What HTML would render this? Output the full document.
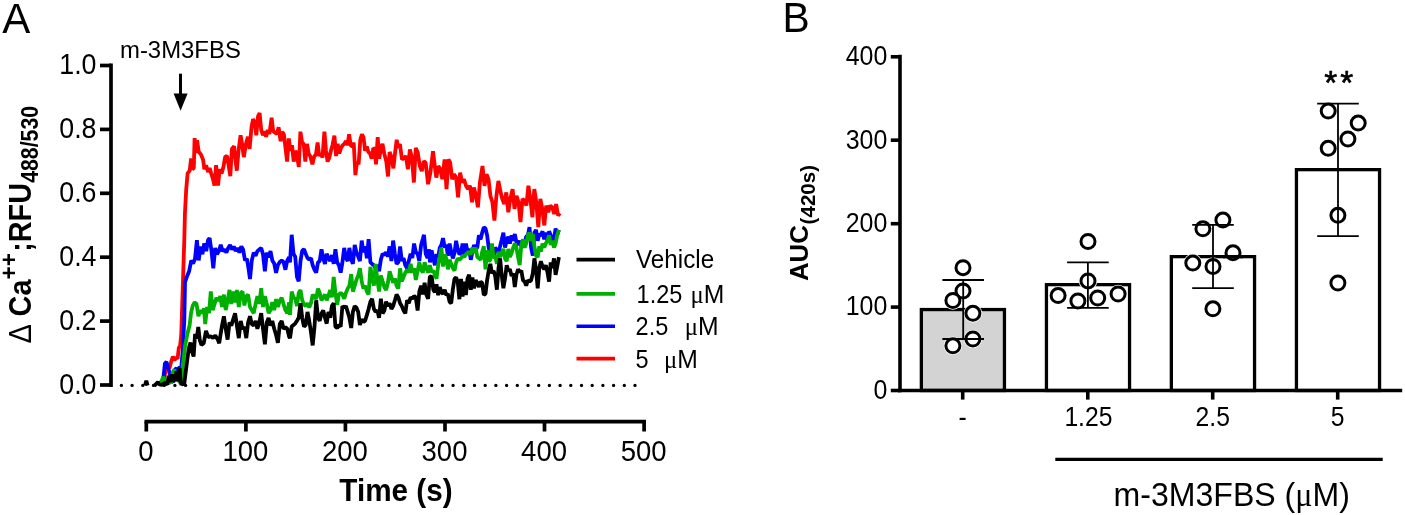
<!DOCTYPE html>
<html><head><meta charset="utf-8"><title>Figure</title>
<style>html,body{margin:0;padding:0;background:#fff;}body{width:1405px;height:515px;overflow:hidden;}svg{display:block;will-change:transform;}text{font-family:"Liberation Sans",sans-serif;fill:#000;}.b{font-weight:bold;}.sy{font-family:"Liberation Serif",serif;}</style>
</head><body>
<svg width="1405" height="515" viewBox="0 0 1405 515">
<rect width="1405" height="515" fill="#fff"/>
<text transform="translate(2.20,32.60) scale(1.0000,1)" font-size="42.00" text-anchor="start">A</text>
<line x1="121.4" y1="385.4" x2="635.5" y2="385.4" stroke="#000" stroke-width="3.4" stroke-linecap="round" stroke-dasharray="0 10.7"/>
<g fill="none" stroke-width="3.8" stroke-linejoin="bevel" stroke-linecap="butt">
<path d="M163.3,382.1 L165.6,371.3 L168.0,365.0 L169.5,368.2 L171.1,361.9 L172.9,356.5 L174.5,360.4 L176.0,357.3 L177.6,358.8 L178.8,348.0 L180.1,345.6 L181.2,335.5 L184.3,240.0 L184.9,214.2 L186.2,189.7 L187.6,173.4 L189.7,170.7 L191.1,158.4 L192.5,169.3 L193.8,168.0 L194.6,138.1 L196.3,153.0 L197.1,140.2 L198.7,151.7 L200.9,154.4 L203.1,159.8 L204.4,169.3 L206.1,165.2 L208.0,172.0 L209.6,168.0 L211.2,173.4 L212.9,178.8 L214.5,185.6 L216.1,165.2 L218.0,185.6 L219.7,169.3 L221.6,173.4 L223.5,166.6 L225.1,157.1 L227.0,155.7 L228.6,165.2 L230.3,176.1 L231.9,148.9 L234.1,146.2 L235.1,157.1 L236.8,170.7 L238.7,148.9 L240.6,135.3 L242.2,144.9 L243.8,157.1 L246.0,143.5 L247.9,136.7 L249.6,148.9 L251.5,127.2 L253.1,119.0 L254.7,123.1 L256.3,135.3 L258.0,116.3 L259.6,113.0 L261.2,129.9 L262.9,135.3 L264.5,131.3 L266.1,136.7 L267.8,129.9 L269.4,134.0 L271.6,117.7 L273.2,131.3 L275.1,132.6 L277.0,134.0 L278.6,127.2 L280.6,141.2 L282.2,131.7 L283.9,134.4 L285.5,148.0 L287.1,161.6 L288.8,138.4 L290.4,150.7 L292.0,145.2 L293.7,161.6 L295.3,150.7 L296.9,154.8 L298.8,167.0 L300.4,131.7 L302.1,142.5 L303.7,143.9 L305.3,161.6 L307.0,143.9 L308.6,153.4 L310.2,156.1 L312.4,164.3 L314.3,156.1 L315.9,154.8 L317.6,142.5 L319.2,156.1 L320.8,153.4 L322.5,157.5 L324.4,131.7 L326.0,150.7 L327.6,161.6 L329.3,157.5 L330.9,150.7 L332.5,145.2 L334.4,135.7 L336.1,156.1 L337.7,143.9 L339.3,153.4 L341.0,148.0 L342.6,145.2 L344.2,143.9 L346.1,141.2 L347.5,145.2 L349.1,134.4 L350.7,145.2 L352.4,146.6 L353.7,142.5 L355.4,175.1 L357.0,161.6 L358.6,164.3 L360.3,139.8 L361.9,134.4 L363.5,137.1 L365.1,150.7 L366.8,146.6 L368.4,152.0 L370.0,153.4 L371.7,158.8 L373.3,148.0 L374.9,149.3 L376.0,164.3 L377.7,137.1 L379.3,158.8 L380.9,148.0 L382.5,143.9 L384.2,153.4 L386.3,161.6 L388.0,176.5 L389.6,152.0 L391.2,156.1 L393.4,168.3 L395.0,153.4 L396.7,139.8 L398.3,148.0 L399.9,143.9 L402.0,159.4 L404.0,157.8 L405.9,156.1 L407.9,169.3 L409.9,149.5 L411.9,157.8 L413.9,182.5 L415.8,147.9 L417.8,152.8 L419.8,166.0 L421.8,171.0 L423.8,161.1 L425.7,162.7 L428.1,184.2 L430.4,172.6 L433.0,151.2 L435.0,167.7 L436.3,177.6 L438.3,166.0 L440.3,169.3 L442.3,179.2 L444.6,159.4 L446.5,189.1 L448.5,159.4 L450.2,162.7 L452.2,179.2 L454.1,174.3 L456.1,177.6 L458.1,197.4 L460.1,172.6 L462.1,182.5 L464.0,179.2 L466.0,185.8 L468.0,189.1 L470.0,185.8 L472.0,202.3 L473.9,187.5 L475.9,195.7 L477.9,207.3 L479.9,182.5 L482.5,166.0 L484.5,185.8 L486.5,174.3 L488.5,179.2 L490.4,195.7 L492.4,202.3 L494.4,220.5 L496.4,195.7 L498.4,180.9 L500.3,190.8 L502.3,199.0 L504.3,204.0 L506.3,192.4 L508.3,212.2 L510.3,199.0 L512.6,189.1 L514.5,208.9 L516.5,195.7 L518.5,202.3 L520.5,222.1 L522.5,199.0 L524.4,200.7 L526.4,205.6 L528.4,185.8 L530.4,199.0 L532.4,217.2 L534.3,189.1 L536.3,202.3 L538.3,227.1 L540.3,199.0 L542.3,208.9 L544.3,225.4 L546.2,205.6 L548.2,212.2 L550.2,205.6 L552.2,207.3 L554.2,213.9 L556.1,204.0 L558.1,215.5 L559.8,213.2" stroke="#ff0000"/>
<path d="M163.3,379.0 L164.9,363.5 L166.4,361.9 L168.0,366.6 L169.5,372.8 L171.1,380.6 L173.4,382.1 L175.0,369.7 L176.5,368.2 L178.1,372.8 L179.6,366.6 L181.2,368.2 L182.7,351.1 L184.3,320.0 L185.0,282.1 L187.2,275.9 L189.1,271.3 L191.3,260.4 L193.1,263.5 L195.0,258.8 L196.9,240.2 L198.7,260.4 L200.6,246.4 L202.4,254.2 L204.3,243.3 L206.2,251.1 L208.0,240.2 L209.6,238.0 L211.5,251.1 L213.3,268.2 L215.2,248.0 L217.0,254.2 L218.9,251.1 L220.8,244.9 L222.6,251.1 L224.5,249.5 L226.4,252.6 L228.2,248.0 L230.1,244.9 L232.0,249.5 L233.8,246.4 L235.7,251.1 L237.6,248.0 L239.4,252.6 L241.3,246.4 L243.1,249.5 L245.0,260.4 L246.9,258.8 L248.7,269.7 L250.0,279.0 L251.8,260.4 L253.7,252.6 L255.6,255.7 L257.4,251.1 L259.3,249.5 L261.2,248.0 L263.0,254.2 L264.9,271.3 L266.8,252.6 L268.6,257.3 L270.5,251.1 L272.3,260.4 L274.2,263.5 L276.1,272.8 L277.9,265.0 L279.8,261.9 L281.7,260.4 L283.5,261.9 L285.4,269.7 L287.3,260.4 L289.1,257.3 L290.0,262.4 L291.7,234.8 L293.5,253.7 L295.2,256.6 L297.0,277.0 L298.7,281.4 L300.5,261.0 L302.2,250.8 L304.0,249.3 L305.7,253.7 L307.5,258.1 L309.2,259.5 L311.0,258.1 L312.7,265.3 L314.5,269.7 L316.2,272.6 L318.0,262.4 L319.7,261.0 L321.5,249.3 L323.2,258.1 L325.0,263.9 L326.7,253.7 L328.4,258.1 L330.2,261.0 L331.9,255.1 L333.7,263.9 L335.4,249.3 L337.2,262.4 L338.9,265.3 L340.7,272.6 L342.4,262.4 L344.2,247.9 L345.9,258.1 L347.7,261.0 L349.4,247.9 L351.2,259.5 L352.9,263.9 L354.7,245.0 L356.4,252.2 L358.2,256.6 L359.9,261.0 L361.7,240.6 L363.4,252.2 L365.1,246.4 L366.9,258.1 L368.6,239.1 L370.4,262.4 L372.1,263.9 L373.9,265.3 L375.6,268.3 L377.4,265.3 L379.1,271.2 L380.9,259.5 L382.6,253.7 L384.4,255.1 L386.1,252.2 L387.9,256.6 L389.6,246.4 L391.4,261.0 L393.1,240.6 L394.9,253.7 L396.6,263.9 L398.3,262.4 L400.1,246.4 L401.8,261.0 L403.6,258.1 L405.3,265.3 L407.1,268.3 L408.8,261.0 L410.6,253.7 L412.3,258.1 L414.1,243.5 L415.8,252.2 L417.6,253.7 L419.3,261.0 L421.1,245.0 L422.8,239.1 L424.0,234.8 L425.7,253.7 L427.5,258.1 L429.2,249.3 L430.0,262.5 L431.6,250.3 L433.3,258.4 L434.9,265.2 L436.5,254.4 L438.2,257.1 L439.8,247.6 L441.4,244.9 L443.0,238.1 L444.7,247.6 L446.3,244.9 L447.9,255.7 L449.6,243.5 L451.2,251.7 L452.8,258.4 L454.5,253.0 L456.1,240.8 L457.7,248.9 L459.4,254.4 L461.0,253.0 L462.6,243.5 L464.3,254.4 L465.9,243.5 L467.5,251.7 L469.1,248.9 L470.8,259.8 L472.4,251.7 L474.0,244.9 L475.7,248.9 L477.3,247.6 L478.9,235.3 L480.6,239.4 L482.2,232.6 L483.8,227.2 L485.5,228.5 L487.1,235.3 L488.7,247.6 L490.3,254.4 L492.0,253.0 L493.6,257.1 L495.2,247.6 L496.9,250.3 L498.5,253.0 L500.1,246.2 L501.8,239.4 L503.4,232.6 L505.0,247.6 L506.7,240.8 L508.3,236.7 L509.9,243.5 L511.6,235.3 L513.2,240.8 L514.8,234.0 L516.4,242.1 L518.1,244.9 L519.7,240.8 L521.3,246.2 L523.0,240.8 L524.6,243.5 L526.2,236.7 L527.9,235.3 L529.5,227.2 L531.1,247.6 L532.8,255.7 L534.4,232.6 L536.0,229.9 L537.7,240.8 L539.3,234.0 L540.9,235.3 L542.5,231.3 L544.2,239.4 L545.8,232.6 L547.4,240.8 L549.1,231.3 L550.7,235.3 L552.3,242.1 L554.0,239.4 L555.6,228.5 L557.2,235.3 L558.9,229.9" stroke="#0000ff"/>
<path d="M160.2,384.5 L163.3,376.7 L164.9,382.1 L167.2,383.7 L171.1,382.1 L172.6,372.8 L174.2,369.7 L175.7,374.4 L177.3,377.5 L181.2,384.5 L182.7,366.6 L185.0,346.4 L187.4,334.0 L189.7,324.7 L191.0,313.2 L192.8,305.4 L194.7,302.3 L196.5,303.9 L198.4,316.3 L200.3,310.1 L202.1,313.2 L204.0,308.5 L205.2,324.1 L207.1,307.0 L209.0,313.2 L210.8,291.5 L212.7,310.1 L214.6,303.9 L216.4,297.7 L218.3,300.8 L220.2,296.1 L222.0,307.0 L223.9,294.6 L225.7,310.1 L227.6,300.8 L229.5,289.9 L231.3,303.9 L233.2,291.5 L235.1,302.3 L236.9,289.9 L238.8,307.0 L240.7,293.0 L242.5,291.5 L244.4,305.4 L246.3,296.1 L248.1,294.6 L250.0,307.0 L251.8,310.1 L253.7,313.2 L255.6,303.9 L257.4,296.1 L259.3,303.9 L261.2,288.3 L263.0,307.0 L264.9,296.1 L266.8,303.9 L268.6,313.2 L270.5,310.1 L272.3,302.3 L274.2,310.1 L276.1,299.2 L277.9,307.0 L279.8,300.8 L281.7,297.7 L283.5,303.9 L285.4,310.1 L287.3,313.2 L289.1,302.3 L290.0,314.9 L291.7,291.6 L293.5,297.4 L295.2,298.8 L297.0,306.1 L298.7,293.0 L300.5,290.1 L302.2,300.3 L304.0,304.7 L305.7,306.1 L307.5,303.2 L309.2,307.6 L311.0,303.2 L312.7,294.5 L314.5,297.4 L316.2,298.8 L318.0,288.6 L319.7,293.0 L321.5,300.3 L323.2,297.4 L325.0,294.5 L326.7,300.3 L328.4,295.9 L330.2,290.1 L331.9,297.4 L333.7,277.0 L335.4,293.0 L337.2,304.7 L338.9,294.5 L340.7,293.0 L342.4,294.5 L344.2,298.8 L345.9,293.0 L347.7,288.6 L349.4,285.7 L351.2,274.1 L352.9,291.6 L354.7,285.7 L356.4,279.9 L358.2,275.5 L359.9,268.3 L361.7,281.4 L363.4,288.6 L365.1,285.7 L366.9,291.6 L368.6,294.5 L370.4,266.8 L372.1,277.0 L373.9,285.7 L375.6,263.9 L377.4,279.9 L379.1,291.6 L380.9,275.5 L382.6,281.4 L384.4,287.2 L386.1,290.1 L387.9,282.8 L389.6,271.2 L391.4,277.0 L393.1,282.8 L394.9,278.4 L396.6,285.7 L398.3,288.6 L400.1,268.3 L401.8,281.4 L403.6,277.0 L405.3,272.6 L407.1,269.7 L408.8,272.6 L410.6,263.9 L412.3,272.6 L414.1,268.3 L415.8,279.9 L417.6,271.2 L419.3,262.4 L421.1,269.7 L422.8,272.6 L424.6,262.4 L426.3,268.3 L428.1,272.6 L429.8,265.3 L431.6,272.0 L433.3,270.7 L434.9,274.8 L436.5,278.8 L438.2,265.2 L439.8,257.1 L441.4,247.6 L443.0,266.6 L444.7,254.4 L446.3,258.4 L447.9,269.3 L449.6,259.8 L451.2,263.9 L452.8,268.0 L454.5,270.7 L456.1,262.5 L457.7,258.4 L459.4,259.8 L461.0,258.4 L462.6,255.7 L464.3,257.1 L465.9,254.4 L467.5,253.0 L469.1,251.7 L470.8,254.4 L472.4,247.6 L474.0,253.0 L475.7,247.6 L477.3,257.1 L478.9,258.4 L480.6,259.8 L482.2,251.7 L483.8,246.2 L485.5,269.3 L487.1,250.3 L488.7,261.2 L490.3,259.8 L492.0,243.5 L493.6,258.4 L495.2,255.7 L496.9,263.9 L498.5,251.7 L500.1,257.1 L501.8,253.0 L503.4,248.9 L505.0,258.4 L506.7,261.2 L508.3,248.9 L509.9,257.1 L511.6,253.0 L513.2,247.6 L514.8,243.5 L516.4,247.6 L518.1,257.1 L519.7,265.2 L521.3,244.9 L523.0,239.4 L524.6,247.6 L526.2,243.5 L527.9,235.3 L529.5,232.6 L531.1,240.8 L532.8,234.0 L534.4,246.2 L536.0,255.7 L537.7,257.1 L539.3,246.2 L540.9,251.7 L542.5,243.5 L544.2,247.6 L545.8,243.5 L547.4,240.8 L549.1,235.3 L550.7,244.9 L552.3,240.8 L554.0,247.6 L555.6,243.5 L557.2,235.3 L558.9,229.9" stroke="#00b000"/>
<path d="M154.3,385.9 L155.5,384.5 L157.9,382.1 L159.4,384.5 L161.7,384.9 L164.9,382.9 L167.2,384.5 L168.7,375.9 L170.3,382.1 L171.8,374.4 L173.4,381.4 L175.0,379.0 L176.5,371.3 L178.1,381.4 L179.6,368.2 L180.7,382.1 L181.9,384.5 L184.3,383.7 L185.8,371.3 L187.4,358.8 L188.9,348.0 L190.5,342.5 L192.0,351.1 L193.6,356.5 L195.1,334.0 L196.7,338.6 L198.3,327.0 L199.8,340.2 L201.4,344.9 L203.7,343.3 L206.0,330.9 L208.3,337.1 L210.7,336.3 L213.0,337.9 L215.3,335.5 L217.7,339.4 L219.2,343.3 L222.0,325.6 L223.9,316.3 L225.7,328.7 L227.6,339.6 L229.5,322.5 L231.3,325.6 L233.2,319.4 L235.1,313.2 L236.9,325.6 L238.8,338.1 L240.7,321.0 L242.5,328.7 L244.4,327.2 L246.3,338.1 L248.1,322.5 L250.0,316.3 L251.8,324.1 L253.7,325.6 L255.6,321.0 L257.4,328.7 L259.3,322.5 L261.2,313.2 L263.0,328.7 L264.9,344.3 L266.8,322.5 L268.6,317.9 L270.5,325.6 L272.3,321.0 L274.2,328.7 L276.1,335.0 L277.9,342.7 L279.8,324.1 L281.7,321.0 L283.5,328.7 L285.4,327.2 L287.3,328.7 L289.1,336.5 L290.0,338.2 L291.7,326.5 L293.5,325.0 L295.2,323.6 L297.0,320.7 L298.7,317.8 L300.5,303.2 L302.2,317.8 L304.0,326.5 L305.7,325.0 L307.5,311.9 L309.2,320.7 L311.0,332.3 L312.7,345.4 L314.5,326.5 L316.2,300.3 L318.0,317.8 L319.7,320.7 L321.5,313.4 L323.2,310.5 L325.0,317.8 L326.7,323.6 L328.4,311.9 L330.2,317.8 L331.9,306.1 L333.7,303.2 L335.4,326.5 L337.2,328.0 L338.9,325.0 L340.7,326.5 L342.4,306.1 L344.2,307.6 L345.9,306.1 L347.7,311.9 L349.4,317.8 L351.2,328.0 L352.9,311.9 L354.7,306.1 L356.4,307.6 L358.2,311.9 L359.9,325.0 L361.7,319.2 L363.4,322.1 L365.1,320.7 L366.9,314.9 L368.6,309.0 L370.4,301.7 L372.1,298.8 L373.9,309.0 L375.6,311.9 L377.4,310.5 L379.1,317.8 L380.9,298.8 L382.6,313.4 L384.4,310.5 L386.1,301.7 L387.9,306.1 L389.6,303.2 L391.4,309.0 L393.1,306.1 L394.9,300.3 L396.6,294.5 L398.3,297.4 L400.1,303.2 L401.8,306.1 L403.6,310.5 L405.3,313.4 L407.1,300.3 L408.8,303.2 L410.6,297.4 L412.3,298.8 L414.1,295.9 L415.8,297.4 L417.6,310.5 L419.3,291.6 L421.1,285.7 L422.8,294.5 L424.6,282.8 L426.3,294.5 L428.1,298.8 L429.8,277.0 L431.6,276.1 L433.3,289.7 L434.9,292.4 L436.5,284.3 L438.2,295.1 L439.8,287.0 L441.4,292.4 L443.0,293.8 L444.7,289.7 L446.3,295.1 L447.9,293.8 L449.6,301.9 L451.2,303.3 L452.8,289.7 L454.5,278.8 L456.1,277.5 L457.7,281.6 L459.4,299.2 L461.0,278.8 L462.6,296.5 L464.3,281.6 L465.9,295.1 L467.5,278.8 L469.1,274.8 L470.8,289.7 L472.4,277.5 L474.0,288.3 L475.7,280.2 L477.3,282.9 L478.9,287.0 L480.6,281.6 L482.2,282.9 L483.8,295.1 L485.5,293.8 L487.1,280.2 L488.7,270.7 L490.3,263.9 L492.0,273.4 L493.6,270.7 L495.2,276.1 L496.9,289.7 L498.5,268.0 L500.1,258.4 L501.8,276.1 L503.4,288.3 L505.0,278.8 L506.7,265.2 L508.3,270.7 L509.9,269.3 L511.6,276.1 L513.2,273.4 L514.8,287.0 L516.4,274.8 L518.1,269.3 L519.7,272.0 L521.3,270.7 L523.0,280.2 L524.6,281.6 L526.2,285.6 L527.9,280.2 L529.5,281.6 L531.1,280.2 L532.8,273.4 L534.4,258.4 L536.0,269.3 L537.7,288.3 L539.3,268.0 L540.9,261.2 L542.5,266.6 L544.2,269.3 L545.8,265.2 L547.4,272.0 L549.1,281.6 L550.7,262.5 L552.3,268.0 L554.0,258.4 L555.6,274.8 L557.2,266.6 L558.9,257.1" stroke="#000"/>
<path d="M145.0,385.5 L146.3,380.8 L147.6,385.5" stroke="#000"/>
</g>
<g stroke="#000" stroke-width="3.7" fill="none" stroke-linecap="butt">
<line x1="111.0" y1="63.6" x2="111.0" y2="386.9"/>
<line x1="100" y1="385.0" x2="111.0" y2="385.0"/>
<line x1="100" y1="321.1" x2="111.0" y2="321.1"/>
<line x1="100" y1="257.2" x2="111.0" y2="257.2"/>
<line x1="100" y1="193.3" x2="111.0" y2="193.3"/>
<line x1="100" y1="129.4" x2="111.0" y2="129.4"/>
<line x1="100" y1="65.5" x2="111.0" y2="65.5"/>
<line x1="144.5" y1="421.6" x2="646.0" y2="421.6"/>
<line x1="146.3" y1="421.6" x2="146.3" y2="431.5"/>
<line x1="245.9" y1="421.6" x2="245.9" y2="431.5"/>
<line x1="345.4" y1="421.6" x2="345.4" y2="431.5"/>
<line x1="445.0" y1="421.6" x2="445.0" y2="431.5"/>
<line x1="544.5" y1="421.6" x2="544.5" y2="431.5"/>
<line x1="644.1" y1="421.6" x2="644.1" y2="431.5"/>
</g>
<text transform="translate(96.50,393.70) scale(0.9300,1)" font-size="28.80" text-anchor="end">0.0</text>
<text transform="translate(96.50,329.80) scale(0.9300,1)" font-size="28.80" text-anchor="end">0.2</text>
<text transform="translate(96.50,265.90) scale(0.9300,1)" font-size="28.80" text-anchor="end">0.4</text>
<text transform="translate(96.50,202.00) scale(0.9300,1)" font-size="28.80" text-anchor="end">0.6</text>
<text transform="translate(96.50,138.10) scale(0.9300,1)" font-size="28.80" text-anchor="end">0.8</text>
<text transform="translate(96.50,74.20) scale(0.9300,1)" font-size="28.80" text-anchor="end">1.0</text>
<text transform="translate(145.80,461.00) scale(0.9550,1)" font-size="28.80" text-anchor="middle">0</text>
<text transform="translate(245.36,461.00) scale(0.9550,1)" font-size="28.80" text-anchor="middle">100</text>
<text transform="translate(344.92,461.00) scale(0.9550,1)" font-size="28.80" text-anchor="middle">200</text>
<text transform="translate(444.48,461.00) scale(0.9550,1)" font-size="28.80" text-anchor="middle">300</text>
<text transform="translate(544.04,461.00) scale(0.9550,1)" font-size="28.80" text-anchor="middle">400</text>
<text transform="translate(643.60,461.00) scale(0.9550,1)" font-size="28.80" text-anchor="middle">500</text>
<text transform="translate(396.00,500.60) scale(0.9400,1)" font-size="31.60" text-anchor="middle" class="b">Time (s)</text>
<text transform="translate(31.00,343.40) rotate(-90) scale(0.9100,1)" font-size="32.00">Δ</text>
<text transform="translate(31.00,316.40) rotate(-90) scale(0.9000,1)" font-size="32.00" class="b">Ca</text>
<text transform="translate(16.60,279.40) rotate(-90) scale(0.9400,1)" font-size="24.00" class="b">++</text>
<text transform="translate(31.00,251.80) rotate(-90) scale(0.9000,1)" font-size="32.00" class="b">;RFU</text>
<text transform="translate(37.60,182.80) rotate(-90) scale(0.8750,1)" font-size="24.30" class="b">488/530</text>
<text transform="translate(120.00,57.90) scale(0.9720,1)" font-size="24.60" text-anchor="start">m-3M3FBS</text>
<line x1="180.5" y1="73.7" x2="180.5" y2="96" stroke="#000" stroke-width="3"/>
<path d="M173.6,93.6 L187.6,93.6 L180.6,110.8 Z" fill="#000"/>
<line x1="576.5" y1="259.6" x2="615" y2="259.6" stroke="#000" stroke-width="3.6"/>
<line x1="576.5" y1="293.9" x2="615" y2="293.9" stroke="#00b000" stroke-width="3.6"/>
<line x1="576.5" y1="326.3" x2="615" y2="326.3" stroke="#0000ff" stroke-width="3.6"/>
<line x1="576.5" y1="358.6" x2="615" y2="358.6" stroke="#ff0000" stroke-width="3.6"/>
<text transform="translate(636.00,268.00) scale(0.9620,1)" font-size="25.20" text-anchor="start">Vehicle</text>
<text transform="translate(636.60,303.10) scale(0.9330,1)" font-size="25.20" text-anchor="start">1.25</text>
<text transform="translate(690.60,303.10) scale(0.9800,1)" font-size="25.20" text-anchor="start"><tspan class="sy">μ</tspan>M</text>
<text transform="translate(635.60,335.30) scale(0.9330,1)" font-size="25.20" text-anchor="start">2.5</text>
<text transform="translate(684.80,335.30) scale(0.9800,1)" font-size="25.20" text-anchor="start"><tspan class="sy">μ</tspan>M</text>
<text transform="translate(635.60,368.30) scale(0.9330,1)" font-size="25.20" text-anchor="start">5</text>
<text transform="translate(664.00,368.30) scale(0.9800,1)" font-size="25.20" text-anchor="start"><tspan class="sy">μ</tspan>M</text>
<text transform="translate(782.50,32.00) scale(0.9550,1)" font-size="42.70" text-anchor="start">B</text>
<rect x="921.35" y="309.55" width="83.10" height="80.95" fill="#d3d3d3" stroke="#000" stroke-width="3.3"/>
<rect x="1046.45" y="284.65" width="83.10" height="105.85" fill="#fff" stroke="#000" stroke-width="3.3"/>
<rect x="1171.35" y="256.65" width="83.20" height="133.85" fill="#fff" stroke="#000" stroke-width="3.3"/>
<rect x="1296.45" y="169.65" width="83.10" height="220.85" fill="#fff" stroke="#000" stroke-width="3.3"/>
<circle cx="963.0" cy="267.7" r="9.2" fill="#fff"/>
<circle cx="963.0" cy="291.0" r="9.2" fill="#fff"/>
<circle cx="952.9" cy="300.5" r="9.2" fill="#fff"/>
<circle cx="972.9" cy="313.3" r="9.2" fill="#fff"/>
<circle cx="972.9" cy="339.0" r="9.2" fill="#fff"/>
<circle cx="952.9" cy="345.8" r="9.2" fill="#fff"/>
<circle cx="1088.0" cy="241.5" r="9.2" fill="#fff"/>
<circle cx="1088.0" cy="280.9" r="9.2" fill="#fff"/>
<circle cx="1058.1" cy="295.6" r="9.2" fill="#fff"/>
<circle cx="1077.9" cy="301.0" r="9.2" fill="#fff"/>
<circle cx="1097.7" cy="298.0" r="9.2" fill="#fff"/>
<circle cx="1118.1" cy="294.0" r="9.2" fill="#fff"/>
<circle cx="1202.9" cy="228.8" r="9.2" fill="#fff"/>
<circle cx="1222.9" cy="220.1" r="9.2" fill="#fff"/>
<circle cx="1192.8" cy="263.1" r="9.2" fill="#fff"/>
<circle cx="1213.0" cy="266.5" r="9.2" fill="#fff"/>
<circle cx="1233.0" cy="252.8" r="9.2" fill="#fff"/>
<circle cx="1212.9" cy="308.8" r="9.2" fill="#fff"/>
<circle cx="1328.2" cy="111.1" r="9.2" fill="#fff"/>
<circle cx="1358.2" cy="123.1" r="9.2" fill="#fff"/>
<circle cx="1347.9" cy="139.0" r="9.2" fill="#fff"/>
<circle cx="1328.2" cy="148.3" r="9.2" fill="#fff"/>
<circle cx="1337.9" cy="215.3" r="9.2" fill="#fff"/>
<circle cx="1337.9" cy="283.0" r="9.2" fill="#fff"/>
<circle cx="963.0" cy="267.7" r="7" fill="#fff" stroke="#000" stroke-width="3"/>
<circle cx="963.0" cy="291.0" r="7" fill="#fff" stroke="#000" stroke-width="3"/>
<circle cx="952.9" cy="300.5" r="7" fill="#fff" stroke="#000" stroke-width="3"/>
<circle cx="972.9" cy="313.3" r="7" fill="#fff" stroke="#000" stroke-width="3"/>
<circle cx="972.9" cy="339.0" r="7" fill="#fff" stroke="#000" stroke-width="3"/>
<circle cx="952.9" cy="345.8" r="7" fill="#fff" stroke="#000" stroke-width="3"/>
<circle cx="1088.0" cy="241.5" r="7" fill="#fff" stroke="#000" stroke-width="3"/>
<circle cx="1088.0" cy="280.9" r="7" fill="#fff" stroke="#000" stroke-width="3"/>
<circle cx="1058.1" cy="295.6" r="7" fill="#fff" stroke="#000" stroke-width="3"/>
<circle cx="1077.9" cy="301.0" r="7" fill="#fff" stroke="#000" stroke-width="3"/>
<circle cx="1097.7" cy="298.0" r="7" fill="#fff" stroke="#000" stroke-width="3"/>
<circle cx="1118.1" cy="294.0" r="7" fill="#fff" stroke="#000" stroke-width="3"/>
<circle cx="1202.9" cy="228.8" r="7" fill="#fff" stroke="#000" stroke-width="3"/>
<circle cx="1222.9" cy="220.1" r="7" fill="#fff" stroke="#000" stroke-width="3"/>
<circle cx="1192.8" cy="263.1" r="7" fill="#fff" stroke="#000" stroke-width="3"/>
<circle cx="1213.0" cy="266.5" r="7" fill="#fff" stroke="#000" stroke-width="3"/>
<circle cx="1233.0" cy="252.8" r="7" fill="#fff" stroke="#000" stroke-width="3"/>
<circle cx="1212.9" cy="308.8" r="7" fill="#fff" stroke="#000" stroke-width="3"/>
<circle cx="1328.2" cy="111.1" r="7" fill="#fff" stroke="#000" stroke-width="3"/>
<circle cx="1358.2" cy="123.1" r="7" fill="#fff" stroke="#000" stroke-width="3"/>
<circle cx="1347.9" cy="139.0" r="7" fill="#fff" stroke="#000" stroke-width="3"/>
<circle cx="1328.2" cy="148.3" r="7" fill="#fff" stroke="#000" stroke-width="3"/>
<circle cx="1337.9" cy="215.3" r="7" fill="#fff" stroke="#000" stroke-width="3"/>
<circle cx="1337.9" cy="283.0" r="7" fill="#fff" stroke="#000" stroke-width="3"/>
<line x1="1223.0" y1="256.65" x2="1243.0" y2="256.65" stroke="#000" stroke-width="3.3"/>
<g stroke="#000" stroke-width="1.8" fill="none">
<line x1="963.2" y1="280.0" x2="963.2" y2="339.0"/>
<line x1="942.4" y1="280.0" x2="984.0" y2="280.0"/>
<line x1="942.4" y1="339.0" x2="984.0" y2="339.0"/>
<line x1="1087.9" y1="262.3" x2="1087.9" y2="307.8"/>
<line x1="1067.1" y1="262.3" x2="1108.7" y2="262.3"/>
<line x1="1067.1" y1="307.8" x2="1108.7" y2="307.8"/>
<line x1="1213.0" y1="224.8" x2="1213.0" y2="288.2"/>
<line x1="1192.2" y1="224.8" x2="1233.8" y2="224.8"/>
<line x1="1192.2" y1="288.2" x2="1233.8" y2="288.2"/>
<line x1="1338.0" y1="103.6" x2="1338.0" y2="236.1"/>
<line x1="1317.2" y1="103.6" x2="1358.8" y2="103.6"/>
<line x1="1317.2" y1="236.1" x2="1358.8" y2="236.1"/>
</g>
<g stroke="#000" stroke-width="3.6" fill="none">
<line x1="900.0" y1="54.8" x2="900.0" y2="392.3"/>
<line x1="890.8" y1="390.5" x2="900.0" y2="390.5"/>
<line x1="890.8" y1="307.1" x2="900.0" y2="307.1"/>
<line x1="890.8" y1="223.7" x2="900.0" y2="223.7"/>
<line x1="890.8" y1="140.2" x2="900.0" y2="140.2"/>
<line x1="890.8" y1="56.8" x2="900.0" y2="56.8"/>
<line x1="898.2" y1="390.5" x2="1402.2" y2="390.5"/>
<line x1="962.7" y1="390.5" x2="962.7" y2="399.6"/>
<line x1="1087.8" y1="390.5" x2="1087.8" y2="399.6"/>
<line x1="1212.7" y1="390.5" x2="1212.7" y2="399.6"/>
<line x1="1337.7" y1="390.5" x2="1337.7" y2="399.6"/>
</g>
<text transform="translate(887.30,398.90) scale(0.9170,1)" font-size="27.20" text-anchor="end">0</text>
<text transform="translate(887.30,315.48) scale(0.9170,1)" font-size="27.20" text-anchor="end">100</text>
<text transform="translate(887.30,232.06) scale(0.9170,1)" font-size="27.20" text-anchor="end">200</text>
<text transform="translate(887.30,148.64) scale(0.9170,1)" font-size="27.20" text-anchor="end">300</text>
<text transform="translate(887.30,65.22) scale(0.9170,1)" font-size="27.20" text-anchor="end">400</text>
<text transform="translate(962.70,425.50) scale(0.9050,1)" font-size="27.30" text-anchor="middle">-</text>
<text transform="translate(1088.40,425.50) scale(0.9050,1)" font-size="27.30" text-anchor="middle">1.25</text>
<text transform="translate(1212.70,425.50) scale(0.9050,1)" font-size="27.30" text-anchor="middle">2.5</text>
<text transform="translate(1337.70,425.50) scale(0.9050,1)" font-size="27.30" text-anchor="middle">5</text>
<text x="1330.8" y="93.8" font-size="33.4" text-anchor="middle" stroke="#000" stroke-width="0.6">*</text>
<text x="1346.8" y="93.8" font-size="33.4" text-anchor="middle" stroke="#000" stroke-width="0.6">*</text>
<line x1="1055.3" y1="459.4" x2="1382.7" y2="459.4" stroke="#000" stroke-width="3.4"/>
<text transform="translate(1113.60,505.90) scale(0.9660,1)" font-size="33.20" text-anchor="start">m-3M3FBS (<tspan class="sy">μ</tspan>M)</text>
<text transform="translate(808.00,281.00) rotate(-90) scale(0.9800,1)" font-size="26.30" class="b">AUC</text>
<text transform="translate(814.50,224.40) rotate(-90) scale(1.0000,1)" font-size="20.60" class="b">(420s)</text>
</svg></body></html>
